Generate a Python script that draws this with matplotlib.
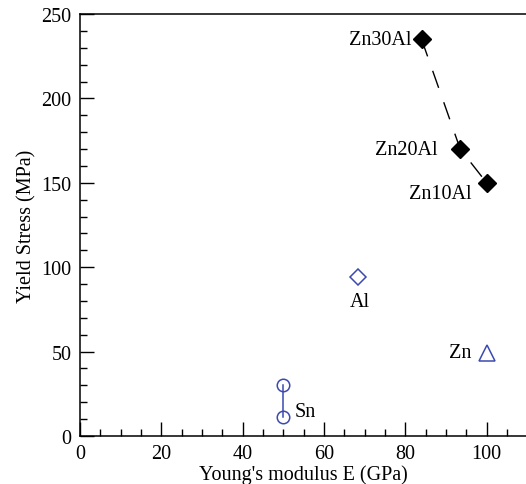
import numpy as np
import matplotlib
matplotlib.use('Agg')
import matplotlib.pyplot as plt
from matplotlib.ticker import MultipleLocator

plt.rcParams['font.family'] = ['Liberation Serif', 'DejaVu Serif']

# Zn-Al alloys
alloy_names = ['Zn30Al', 'Zn20Al', 'Zn10Al']
alloy_E = [84, 93.5, 100]
alloy_ys = [235, 170, 150]

# pure metals
al_E, al_ys = 68.4, 94
zn_E, zn_ys = 100, 49
sn_E = [50, 50]
sn_ys = [30, 11]

blue = '#3a4ab0'

fig = plt.figure(figsize=(5.26, 4.85), dpi=100)
ax = fig.add_axes([0.1521, 0.099, 0.8504, 0.870])

ax.plot(alloy_E, alloy_ys, color='black', lw=1, dashes=(13, 11), zorder=2)
ax.plot(alloy_E, alloy_ys, 'D', color='black', ms=9, zorder=3)

ax.plot(al_E, al_ys, 'D', mfc='none', mec=blue, mew=1.1, ms=8.4)
ax.plot(zn_E, zn_ys, '^', mfc='none', mec=blue, mew=1.1, ms=12)
ax.plot(sn_E, sn_ys, '-o', color=blue, mfc='none', mec=blue, mew=1.1,
        lw=1.1, ms=9)

fs = 14.5
offsets = [(-7, 0, 'right', 'center'),
           (-16.5, 0, 'right', 'center'),
           (-10.5, -8, 'right', 'center')]
for name, x, y, (dx, dy, ha, va) in zip(alloy_names, alloy_E, alloy_ys, offsets):
    ax.annotate(name, (x, y), xytext=(dx, dy), textcoords='offset points',
                ha=ha, va=va, fontsize=fs)

ax.annotate('Al', (al_E, al_ys), xytext=(1, -17.5), textcoords='offset points',
            ha='center', va='center', fontsize=fs)
ax.annotate('Zn', (zn_E, zn_ys), xytext=(-11.3, 0.5), textcoords='offset points',
            ha='right', va='center', fontsize=fs)
ax.annotate('Sn', (sn_E[1], sn_ys[1]), xytext=(8, 4), textcoords='offset points',
            ha='left', va='center', fontsize=fs)

ax.set_xlim(0, 110)
ax.set_ylim(0, 250)
ax.xaxis.set_major_locator(MultipleLocator(20))
ax.xaxis.set_minor_locator(MultipleLocator(5))
ax.yaxis.set_major_locator(MultipleLocator(50))
ax.yaxis.set_minor_locator(MultipleLocator(10))
ax.tick_params(which='both', direction='in', top=False, right=False,
               labelsize=fs, width=1)
ax.tick_params(which='major', length=10, pad=6)
ax.tick_params(which='minor', length=5)
for s in ax.spines.values():
    s.set_linewidth(1.1)

ax.set_xlabel("Young's modulus E (GPa)", fontsize=fs, labelpad=1)
ax.set_ylabel('Yield Stress (MPa)', fontsize=fs, labelpad=4)

fig.savefig('out.png', dpi=100)
